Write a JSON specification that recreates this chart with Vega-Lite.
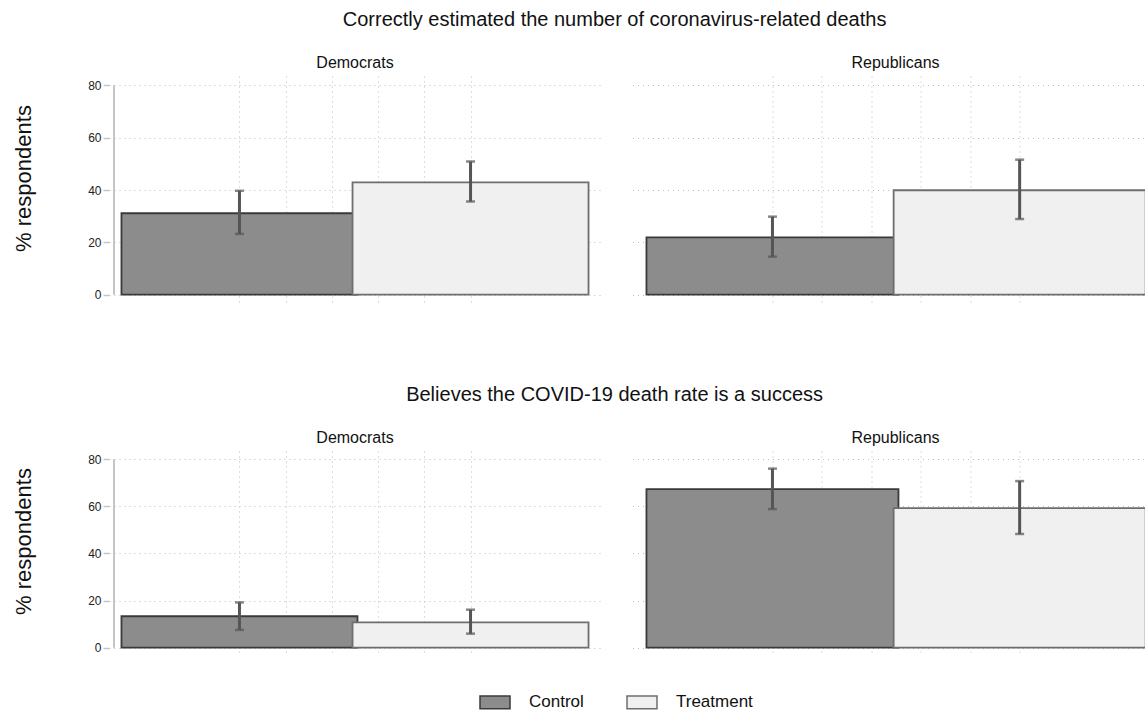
{
  "$schema": "https://vega.github.io/schema/vega-lite/v6.json",
  "padding": {"left": 12, "top": 10, "right": 0, "bottom": 0},
  "background": "white",
  "data": {"name": "d"},
  "datasets": {
    "d": [
      {"question": "deaths", "party": "Democrats", "group": "Control", "treated": 0, "pct": 31.1, "lo": 23.2, "hi": 39.7},
      {"question": "deaths", "party": "Democrats", "group": "Treatment", "treated": 1, "pct": 42.9, "lo": 35.6, "hi": 50.9},
      {"question": "deaths", "party": "Republicans", "group": "Control", "treated": 0, "pct": 21.9, "lo": 14.5, "hi": 29.8},
      {"question": "deaths", "party": "Republicans", "group": "Treatment", "treated": 1, "pct": 39.9, "lo": 28.9, "hi": 51.6},
      {"question": "success", "party": "Democrats", "group": "Control", "treated": 0, "pct": 13.3, "lo": 7.5, "hi": 19.2},
      {"question": "success", "party": "Democrats", "group": "Treatment", "treated": 1, "pct": 10.7, "lo": 5.9, "hi": 16.1},
      {"question": "success", "party": "Republicans", "group": "Control", "treated": 0, "pct": 67.4, "lo": 58.9, "hi": 76.1},
      {"question": "success", "party": "Republicans", "group": "Treatment", "treated": 1, "pct": 59.3, "lo": 48.3, "hi": 70.8}
    ]
  },
  "config": {
    "view": {"stroke": null},
    "font": "Liberation Sans",
    "title": {"fontWeight": "normal", "color": "#111"}
  },
  "spacing": 81,
  "vconcat": [
    {
      "title": {"text": "Correctly estimated the number of coronavirus-related deaths", "fontSize": 20, "anchor": "middle", "offset": 25, "dx": 35},
      "spacing": 31.5,
      "hconcat": [
        {
          "width": 492, "height": 228,
          "title": {"text": "Democrats", "fontSize": 16, "offset": 5},
          "transform": [{"filter": "datum.question === 'deaths' && datum.party === 'Democrats'"}],
          "layer": [
            {
              "mark": {"type": "bar", "orient": "vertical", "width": 236, "strokeWidth": 1.8},
              "encoding": {
                "x": {"field": "treated", "type": "quantitative", "scale": {"domain": [-0.543, 1.543], "nice": false, "zero": false},
                      "axis": {"values": [0, 0.2, 0.4, 0.6, 0.8, 1], "labels": false, "ticks": false, "domain": false, "title": null, "grid": true, "gridDash": [1, 4], "gridColor": "#bdbdbd"}},
                "y": {"field": "pct", "type": "quantitative", "title": "% respondents", "scale": {"domain": [-3.6, 83.6], "nice": false, "zero": false},
                      "axis": {"values": [0, 20, 40, 60, 80], "grid": true, "gridDash": [1, 4], "gridColor": "#bdbdbd", "domain": false, "tickColor": "#c4c4c4", "tickWidth": 1.5, "tickSize": 6, "labelFontSize": 12, "labelColor": "#222", "labelFont": "Liberation Sans", "titleFontSize": 22, "titleFontWeight": "normal", "titleColor": "#111", "titlePadding": 52, "titleY": 102}},
                "fill": {"field": "group", "type": "nominal", "scale": {"domain": ["Control", "Treatment"], "range": ["#8c8c8c", "#f0f0f0"]},
                         "legend": {"title": null, "orient": "none", "legendX": 370, "legendY": 610, "direction": "horizontal", "symbolType": "M-1,-0.42H1V0.42H-1Z", "symbolSize": 900, "symbolStrokeColor": "#444", "symbolStrokeWidth": 1.5, "labelFontSize": 17, "labelOffset": 18, "columnPadding": 40, "labelColor": "#111"}},
                "stroke": {"field": "group", "type": "nominal", "scale": {"domain": ["Control", "Treatment"], "range": ["#3a3a3a", "#6e6e6e"]}, "legend": null}
              }
            },
            {
              "mark": {"type": "errorbar", "color": "#555", "thickness": 3, "ticks": {"size": 9, "thickness": 2.5, "color": "#555"}},
              "encoding": {
                "x": {"field": "treated", "type": "quantitative"},
                "y": {"field": "lo", "type": "quantitative", "title": "% respondents"},
                "y2": {"field": "hi"}
              }
            },
            {
              "mark": {"type": "rule", "color": "#c4c4c4", "strokeWidth": 2},
              "encoding": {"x": {"datum": -0.543}, "y": {"datum": 0}, "y2": {"datum": 80}}
            }
          ]
        },
        {
          "width": 514, "height": 228,
          "title": {"text": "Republicans", "fontSize": 16, "offset": 5, "dx": 6},
          "transform": [{"filter": "datum.question === 'deaths' && datum.party === 'Republicans'"}],
          "layer": [
            {
              "mark": {"type": "bar", "orient": "vertical", "width": 252, "strokeWidth": 1.8},
              "encoding": {
                "x": {"field": "treated", "type": "quantitative", "scale": {"domain": [-0.546, 1.493], "nice": false, "zero": false},
                      "axis": {"values": [0, 0.2, 0.4, 0.6, 0.8, 1], "labels": false, "ticks": false, "domain": false, "title": null, "grid": true, "gridDash": [1, 4], "gridColor": "#bdbdbd"}},
                "y": {"field": "pct", "type": "quantitative", "scale": {"domain": [-3.6, 83.6], "nice": false, "zero": false},
                      "axis": {"values": [0, 20, 40, 60, 80], "labels": false, "ticks": false, "domain": false, "title": null, "grid": true, "gridDash": [1, 4], "gridColor": "#bdbdbd"}},
                "fill": {"field": "group", "type": "nominal", "scale": {"domain": ["Control", "Treatment"], "range": ["#8c8c8c", "#f0f0f0"]}},
                "stroke": {"field": "group", "type": "nominal", "scale": {"domain": ["Control", "Treatment"], "range": ["#3a3a3a", "#6e6e6e"]}, "legend": null}
              }
            },
            {
              "mark": {"type": "errorbar", "color": "#555", "thickness": 3, "ticks": {"size": 9, "thickness": 2.5, "color": "#555"}},
              "encoding": {
                "x": {"field": "treated", "type": "quantitative"},
                "y": {"field": "lo", "type": "quantitative"},
                "y2": {"field": "hi"}
              }
            }
          ]
        }
      ]
    },
    {
      "title": {"text": "Believes the COVID-19 death rate is a success", "fontSize": 20, "anchor": "middle", "offset": 25, "dx": 35},
      "spacing": 31.5,
      "hconcat": [
        {
          "width": 492, "height": 205,
          "title": {"text": "Democrats", "fontSize": 16, "offset": 5},
          "transform": [{"filter": "datum.question === 'success' && datum.party === 'Democrats'"}],
          "layer": [
            {
              "mark": {"type": "bar", "orient": "vertical", "width": 236, "strokeWidth": 1.8},
              "encoding": {
                "x": {"field": "treated", "type": "quantitative", "scale": {"domain": [-0.543, 1.543], "nice": false, "zero": false},
                      "axis": {"values": [0, 0.2, 0.4, 0.6, 0.8, 1], "labels": false, "ticks": false, "domain": false, "title": null, "grid": true, "gridDash": [1, 4], "gridColor": "#bdbdbd"}},
                "y": {"field": "pct", "type": "quantitative", "title": "% respondents", "scale": {"domain": [-3.6, 83.6], "nice": false, "zero": false},
                      "axis": {"values": [0, 20, 40, 60, 80], "grid": true, "gridDash": [1, 4], "gridColor": "#bdbdbd", "domain": false, "tickColor": "#c4c4c4", "tickWidth": 1.5, "tickSize": 6, "labelFontSize": 12, "labelColor": "#222", "labelFont": "Liberation Sans", "titleFontSize": 22, "titleFontWeight": "normal", "titleColor": "#111", "titlePadding": 52, "titleY": 90}},
                "fill": {"field": "group", "type": "nominal", "scale": {"domain": ["Control", "Treatment"], "range": ["#8c8c8c", "#f0f0f0"]}},
                "stroke": {"field": "group", "type": "nominal", "scale": {"domain": ["Control", "Treatment"], "range": ["#3a3a3a", "#6e6e6e"]}, "legend": null}
              }
            },
            {
              "mark": {"type": "errorbar", "color": "#555", "thickness": 3, "ticks": {"size": 9, "thickness": 2.5, "color": "#555"}},
              "encoding": {
                "x": {"field": "treated", "type": "quantitative"},
                "y": {"field": "lo", "type": "quantitative", "title": "% respondents"},
                "y2": {"field": "hi"}
              }
            },
            {
              "mark": {"type": "rule", "color": "#c4c4c4", "strokeWidth": 2},
              "encoding": {"x": {"datum": -0.543}, "y": {"datum": 0}, "y2": {"datum": 80}}
            }
          ]
        },
        {
          "width": 514, "height": 205,
          "title": {"text": "Republicans", "fontSize": 16, "offset": 5, "dx": 6},
          "transform": [{"filter": "datum.question === 'success' && datum.party === 'Republicans'"}],
          "layer": [
            {
              "mark": {"type": "bar", "orient": "vertical", "width": 252, "strokeWidth": 1.8},
              "encoding": {
                "x": {"field": "treated", "type": "quantitative", "scale": {"domain": [-0.546, 1.493], "nice": false, "zero": false},
                      "axis": {"values": [0, 0.2, 0.4, 0.6, 0.8, 1], "labels": false, "ticks": false, "domain": false, "title": null, "grid": true, "gridDash": [1, 4], "gridColor": "#bdbdbd"}},
                "y": {"field": "pct", "type": "quantitative", "scale": {"domain": [-3.6, 83.6], "nice": false, "zero": false},
                      "axis": {"values": [0, 20, 40, 60, 80], "labels": false, "ticks": false, "domain": false, "title": null, "grid": true, "gridDash": [1, 4], "gridColor": "#bdbdbd"}},
                "fill": {"field": "group", "type": "nominal", "scale": {"domain": ["Control", "Treatment"], "range": ["#8c8c8c", "#f0f0f0"]}},
                "stroke": {"field": "group", "type": "nominal", "scale": {"domain": ["Control", "Treatment"], "range": ["#3a3a3a", "#6e6e6e"]}, "legend": null}
              }
            },
            {
              "mark": {"type": "errorbar", "color": "#555", "thickness": 3, "ticks": {"size": 9, "thickness": 2.5, "color": "#555"}},
              "encoding": {
                "x": {"field": "treated", "type": "quantitative"},
                "y": {"field": "lo", "type": "quantitative"},
                "y2": {"field": "hi"}
              }
            }
          ]
        }
      ]
    }
  ]
}
